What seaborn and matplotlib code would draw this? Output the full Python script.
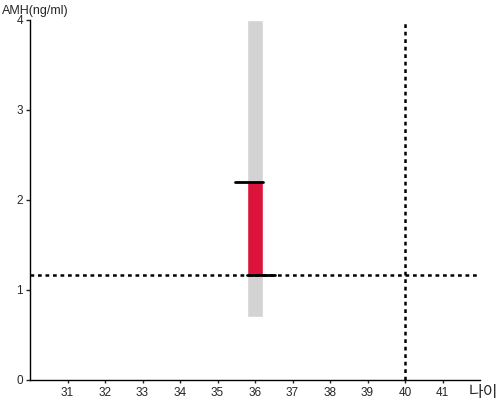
import matplotlib
matplotlib.use("Agg")
import matplotlib.pyplot as plt
import seaborn as sns
import pandas as pd

# data
age_ticks = [31, 32, 33, 34, 35, 36, 37, 38, 39, 40, 41]
y_ticks = [0, 1, 2, 3, 4]
patient_age = [36]
range_low = [0.7]
range_high = [4.0]
amh_low = [1.17]
amh_high = [2.2]
ref_amh = 1.17
ref_age = 40

sns.set_theme(style="white")
plt.rcParams['font.family'] = ['Liberation Sans', 'Noto Sans CJK KR', 'DejaVu Sans']

fig = plt.figure(figsize=(5, 4), dpi=100)
ax = fig.add_axes([0.06, 0.05, 0.90, 0.90])

df = pd.DataFrame({"age": patient_age, "lo": range_low, "hi": range_high,
                   "alo": amh_low, "ahi": amh_high})
w = 0.44
# gray range band
ax.bar(df["age"], df["hi"] - df["lo"], bottom=df["lo"], width=w, color="#d3d3d3", zorder=1)
# red bar
ax.bar(df["age"], df["ahi"] - df["alo"], bottom=df["alo"], width=w, color="#dc143c", zorder=2)
# black caps
for a, lo, hi in zip(df["age"], df["alo"], df["ahi"]):
    ax.plot([a - w/2 - 0.32, a + w/2], [hi, hi], color="black", lw=2, zorder=3)
    ax.plot([a - w/2, a + w/2 + 0.32], [lo, lo], color="black", lw=2, zorder=3)

ax.axhline(ref_amh, color="black", ls=(0, (1.5, 1.5)), lw=1.8, zorder=4)
ax.axvline(ref_age, color="black", ls=(0, (1.5, 1.5)), lw=1.8, zorder=4)

ax.set_xlim(30, 42)
ax.set_ylim(0, 4)
ax.set_xticks(age_ticks)
ax.set_yticks(y_ticks)
ax.tick_params(axis="x", length=2, width=1, labelsize=8.5, pad=3, bottom=True, direction="out")
ax.tick_params(axis="y", length=3, width=1, labelsize=8.5, pad=2, left=True, direction="out")
sns.despine(ax=ax)
for s in ["left", "bottom"]:
    ax.spines[s].set_color("black")
    ax.spines[s].set_linewidth(1)

fig.text(2/500, 1 - 11/400, "AMH(ng/ml)", fontsize=9, va="center", ha="left")
fig.text(498/500, 1 - 392/400, "나이", fontsize=11.5, va="center", ha="right")

fig.savefig("out.png", dpi=100)
